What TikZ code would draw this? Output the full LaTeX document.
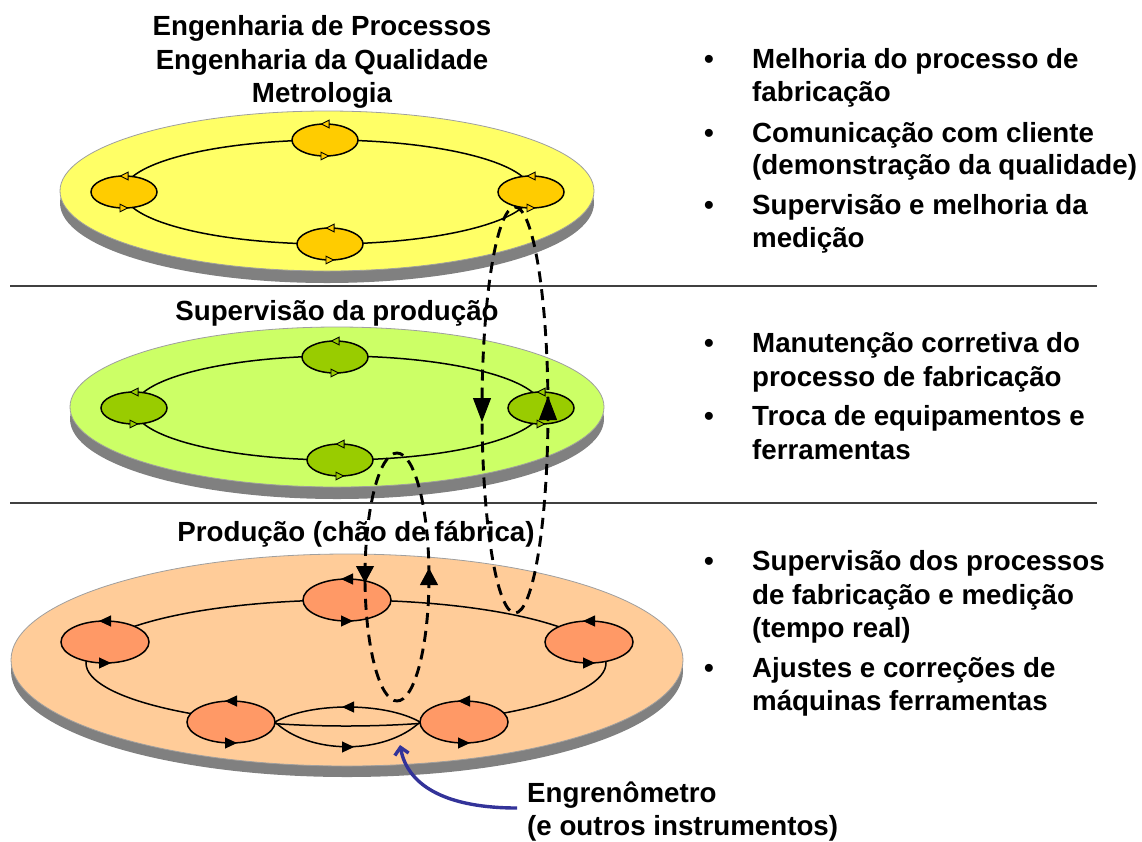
\documentclass[tikz,border=0pt]{standalone}
\usepackage{fontspec}
\setmainfont{Liberation Sans}
\usetikzlibrary{shapes.geometric,arrows.meta}
\definecolor{yface}{HTML}{FFFF66}
\definecolor{ysm}{HTML}{FFCC00}
\definecolor{gface}{HTML}{CCFF66}
\definecolor{gsm}{HTML}{99CC00}
\definecolor{oface}{HTML}{FFCC99}
\definecolor{osm}{HTML}{FF9966}
\definecolor{shadegray}{HTML}{808080}
\definecolor{navyline}{HTML}{333399}
\newcommand{\tipsAt}[3]{% node, style, half length
  \draw[#2] ([xshift=#3]#1.north) -- ([xshift=-#3]#1.north);
  \draw[#2] ([xshift=-#3]#1.south) -- ([xshift=#3]#1.south);}
\begin{document}
\begin{tikzpicture}[x=1pt,y=-1pt,
  txt/.style={font=\fontsize{27.7}{33}\selectfont\bfseries, inner sep=0pt, text=black},
  face/.style={draw=gray!75, line width=0.8pt},
  shadow/.style={fill=shadegray, draw=none},
  sm/.style={ellipse, draw=black, line width=1.5pt, inner sep=0pt, outer sep=0pt, minimum width=66pt, minimum height=32pt},
  bsm/.style={ellipse, draw=black, line width=1.5pt, inner sep=0pt, outer sep=0pt, minimum width=88pt, minimum height=42pt, fill=osm},
  orbit/.style={draw=black, line width=1.5pt},
  tipY/.style={line width=0.9pt, -{Triangle[length=9pt,width=9pt,fill=ysm]}},
  tipG/.style={line width=0.9pt, -{Triangle[length=9pt,width=9pt,fill=gsm]}},
  tipB/.style={line width=1pt, -{Triangle[length=12pt,width=11pt]}},
  sepline/.style={draw=black!75, line width=1.4pt},
  loopline/.style={draw=black, line width=2.9pt, dash pattern=on 11pt off 7pt},
  bigtip/.style={-{Triangle[length=24pt,width=18pt]}, line width=1pt},
  midtip/.style={-{Triangle[length=17pt,width=18pt]}, line width=1pt},
  bluearrow/.style={draw=navyline, line width=3.4pt, -{Straight Barb[length=7pt,width=14pt]}}
]
\useasboundingbox (0,0) rectangle (1142,841);

% ---------- top disk ----------
\fill[shadow] (327,203) ellipse (267 and 80);
\filldraw[face, fill=yface] (327,191) ellipse (267 and 80);
\draw[orbit] (327.5,192) ellipse (204 and 52);
\node[sm, fill=ysm] (ya) at (325,140) {};
\node[sm, fill=ysm] (yb) at (124,192) {};
\node[sm, fill=ysm] (yc) at (531,192) {};
\node[sm, fill=ysm] (yd) at (330,244) {};
\foreach \n in {ya,yb,yc,yd} {\tipsAt{\n}{tipY}{4.5pt}}

% ---------- middle disk ----------
\fill[shadow] (337,419) ellipse (267 and 80);
\filldraw[face, fill=gface] (337,407) ellipse (267 and 80);
\draw[orbit] (338,408) ellipse (204 and 52);
\node[sm, fill=gsm] (ga) at (335,357) {};
\node[sm, fill=gsm] (gb) at (134,408) {};
\node[sm, fill=gsm] (gc) at (541,408) {};
\node[sm, fill=gsm] (gd) at (340,460) {};
\foreach \n in {ga,gb,gc,gd} {\tipsAt{\n}{tipG}{4.5pt}}

% ---------- bottom disk ----------
\fill[shadow] (347,671) ellipse (336 and 106);
\filldraw[face, fill=oface] (347,660) ellipse (336 and 106);
\draw[orbit] (346,663) ellipse (260 and 63);
\node[bsm] (oa) at (347,600) {};
\node[bsm] (ob) at (105,642) {};
\node[bsm] (oc) at (589,642) {};
\node[bsm] (od) at (231,722) {};
\node[bsm] (oe) at (464,722) {};
\foreach \n in {oa,ob,oc,od,oe} {\tipsAt{\n}{tipB}{6pt}}
% lens (Engrenômetro)
\draw[orbit] (od.east) .. controls (310,702) and (385,702) .. (oe.west);
\draw[orbit] (od.east) .. controls (310,755) and (385,755) .. (oe.west);
\draw[tipB] (354,707) -- (342,707);
\draw[tipB] (342,747) -- (354,747);
\coordinate (lensb) at (400,745);

% ---------- separators ----------
\draw[sepline] (10,286) -- (1097,286);
\draw[sepline] (10,503) -- (1097,503);

% ---------- titles ----------
\node[txt, anchor=base] (ti1) at (322,35) {Engenharia de Processos};
\node[txt, anchor=base] (ti2) at (322,69) {Engenharia da Qualidade};
\node[txt, anchor=base] (ti3) at (322,102) {Metrologia};
\node[txt, anchor=base] (ti4) at (337,320) {Supervisão da produção};
\node[txt, anchor=base] (ti5) at (356,541) {Produção (chão de fábrica)};

% ---------- right texts ----------
\node[txt, anchor=base] (b1) at (709,68) {•};
\node[txt, anchor=base west] (r1) at (752,68) {Melhoria do processo de};
\node[txt, anchor=base west] (r2) at (752,101) {fabricação};
\node[txt, anchor=base] (b2) at (709,142) {•};
\node[txt, anchor=base west] (r3) at (752,142) {Comunicação com cliente};
\node[txt, anchor=base west] (r4) at (752,174) {(demonstração da qualidade)};
\node[txt, anchor=base] (b3) at (709,214) {•};
\node[txt, anchor=base west] (r5) at (752,214) {Supervisão e melhoria da};
\node[txt, anchor=base west] (r6) at (752,247) {medição};

\node[txt, anchor=base] (b4) at (709,352) {•};
\node[txt, anchor=base west] (r7) at (752,352) {Manutenção corretiva do};
\node[txt, anchor=base west] (r8) at (752,386) {processo de fabricação};
\node[txt, anchor=base] (b5) at (709,425) {•};
\node[txt, anchor=base west] (r9) at (752,425) {Troca de equipamentos e};
\node[txt, anchor=base west] (r10) at (752,459) {ferramentas};

\node[txt, anchor=base] (b6) at (709,570) {•};
\node[txt, anchor=base west] (r11) at (752,570) {Supervisão dos processos};
\node[txt, anchor=base west] (r12) at (752,604) {de fabricação e medição};
\node[txt, anchor=base west] (r13) at (752,637) {(tempo real)};
\node[txt, anchor=base] (b7) at (709,677) {•};
\node[txt, anchor=base west] (r14) at (752,677) {Ajustes e correções de};
\node[txt, anchor=base west] (r15) at (752,710) {máquinas ferramentas};

\node[txt, anchor=base west] (eng1) at (527,802) {Engrenômetro};
\node[txt, anchor=base west] (eng2) at (527,835) {(e outros instrumentos)};

% ---------- dashed loops ----------
\draw[loopline] (515,410) ellipse (33 and 203);
\draw[bigtip] (482,398) -- (482,422);
\draw[bigtip] (548,420) -- (548,396);
\draw[loopline] (397,577) ellipse (32 and 124);
\draw[midtip] (365,566) -- (365,583);
\draw[midtip] (429,585) -- (429,568);

% ---------- blue arrow ----------
\draw[bluearrow] ([xshift=-10pt,yshift=-6pt]eng1.base west) .. controls (450,808) and (408,788) .. (lensb);
\end{tikzpicture}
\end{document}
